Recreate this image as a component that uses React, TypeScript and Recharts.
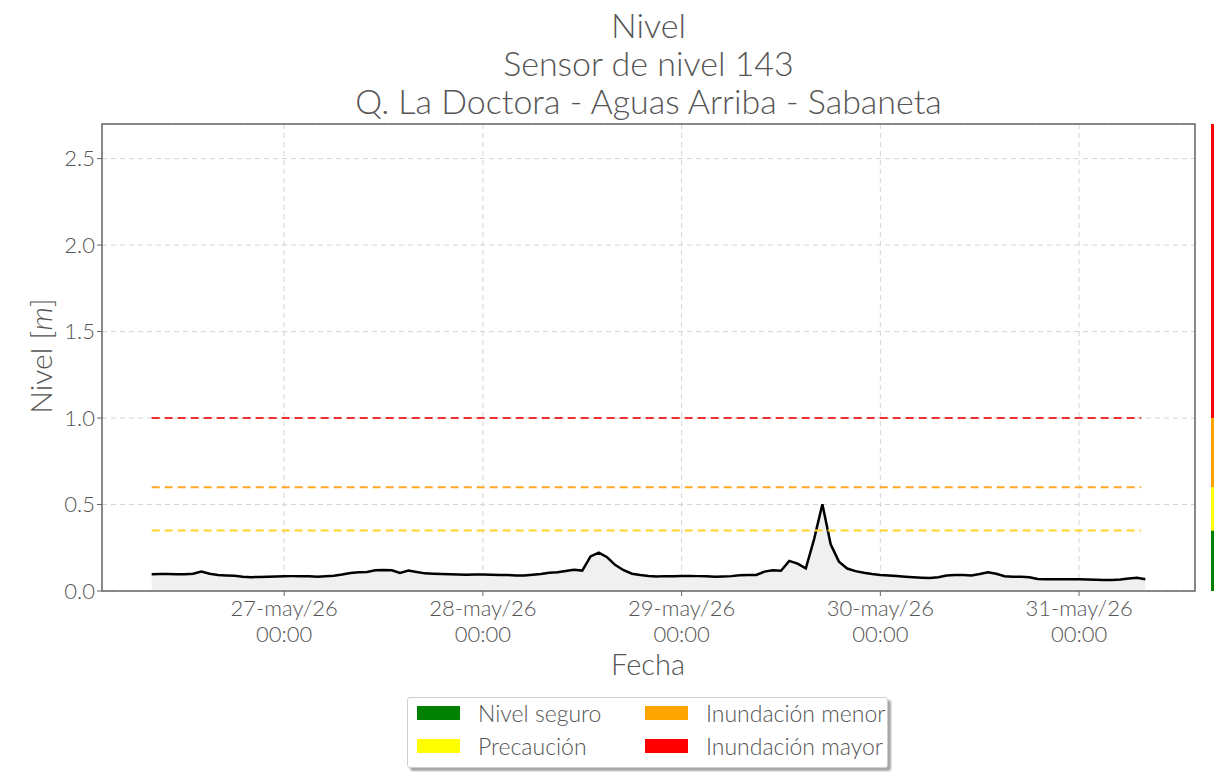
import React from 'react';
import {
  ComposedChart, Area, XAxis, YAxis, CartesianGrid, ReferenceLine, ReferenceArea,
  BarChart, Bar,
} from 'recharts';

// hours since 27-may/26 00:00
const hours: number[] = [
  -16, -15, -14, -13, -12, -11, -10, -9, -8, -7, -6, -5, -4, -3, -2, -1,
  0, 1, 2, 3, 4, 5, 6, 7, 8, 9, 10, 11, 12, 13, 14, 15, 16, 17, 18, 19, 20, 21, 22, 23,
  24, 25, 26, 27, 28, 29, 30, 31, 32, 33, 34, 35, 36, 37, 38, 39, 40, 41, 42, 43, 44, 45, 46, 47,
  48, 49, 50, 51, 52, 53, 54, 55, 56, 57, 58, 59, 60, 61, 62, 63, 64, 65, 66, 67, 68, 69, 70, 71,
  72, 73, 74, 75, 76, 77, 78, 79, 80, 81, 82, 83, 84, 85, 86, 87, 88, 89, 90, 91, 92, 93, 94, 95,
  96, 97, 98, 99, 100, 101, 102, 103, 104,
];

const nivel: number[] = [
  0.097, 0.098, 0.098, 0.097, 0.097, 0.100, 0.112, 0.100, 0.092, 0.090, 0.088, 0.082, 0.080, 0.081, 0.082, 0.084,
  0.085, 0.086, 0.086, 0.085, 0.083, 0.085, 0.088, 0.095, 0.104, 0.108, 0.110, 0.120, 0.122, 0.120, 0.105, 0.118,
  0.110, 0.102, 0.100, 0.098, 0.097, 0.095, 0.094, 0.095,
  0.096, 0.094, 0.093, 0.092, 0.089, 0.090, 0.094, 0.098, 0.105, 0.108, 0.115, 0.123, 0.118, 0.200, 0.222, 0.195,
  0.150, 0.120, 0.100, 0.092, 0.087, 0.084, 0.086, 0.086,
  0.087, 0.087, 0.086, 0.085, 0.083, 0.084, 0.086, 0.091, 0.092, 0.093, 0.112, 0.120, 0.117, 0.174, 0.158, 0.131,
  0.300, 0.502, 0.270, 0.170, 0.130, 0.115, 0.105, 0.098,
  0.093, 0.090, 0.087, 0.083, 0.080, 0.077, 0.075, 0.080, 0.090, 0.092, 0.092, 0.090, 0.098, 0.108, 0.100, 0.085,
  0.083, 0.082, 0.080, 0.070, 0.068, 0.068, 0.068, 0.068,
  0.068, 0.066, 0.065, 0.064, 0.064, 0.066, 0.072, 0.077, 0.068,
];

const xTicks: number[] = [0, 24, 48, 72, 96];
const xTickDates: string[] = ['27-may/26', '28-may/26', '29-may/26', '30-may/26', '31-may/26'];
const xTickTimes: string[] = ['00:00', '00:00', '00:00', '00:00', '00:00'];
const yTicks: number[] = [0, 0.5, 1.0, 1.5, 2.0, 2.5];

const thresholdNames: string[] = ['Precaución', 'Inundación menor', 'Inundación mayor'];
const thresholdValues: number[] = [0.35, 0.6, 1.0];
const thresholdColors: string[] = ['#ffd426', '#ffa726', '#f03030'];

const bandNames: string[] = ['Nivel seguro', 'Precaución', 'Inundación menor', 'Inundación mayor'];
const bandSizes: number[] = [0.35, 0.25, 0.4, 1.7];
const bandColors: string[] = ['#008000', '#ffff00', '#ffa500', '#ff0000'];

const titleLines: string[] = ['Nivel', 'Sensor de nivel 143', 'Q. La Doctora - Aguas Arriba - Sabaneta'];

const data = hours.map((h, i) => ({ h, v: nivel[i] }));
const bandRow: Record<string, number | string> = { name: 'b' };
bandSizes.forEach((s, i) => { bandRow['b' + i] = s; });
const bandData = [bandRow];

const FONT = 'Lato, "Open Sans", sans-serif';
const TXT = '#555555';

const XTick = (props: any) => {
  const { x, y, payload } = props;
  const idx = xTicks.indexOf(payload.value);
  return (
    <g>
      <text x={x} y={y + 18} textAnchor="middle" fill={TXT} fontSize={22} fontFamily={FONT} fontWeight={300}>
        {xTickDates[idx]}
      </text>
      <text x={x} y={y + 44} textAnchor="middle" fill={TXT} fontSize={22} fontFamily={FONT} fontWeight={300}>
        {xTickTimes[idx]}
      </text>
    </g>
  );
};

const YLabel = () => (
  <text x={0} y={0} transform="translate(52,356) rotate(-90)" textAnchor="middle" fill={TXT}
    fontSize={30} fontFamily={FONT} fontWeight={300}>
    Nivel [<tspan fontStyle="italic">m</tspan>]
  </text>
);

const XLabel = () => (
  <text x={648} y={675} textAnchor="middle" fill={TXT} fontSize={29} fontFamily={FONT} fontWeight={300}>
    Fecha
  </text>
);

export default function App() {
  return (
    <div style={{ position: 'absolute', left: 0, top: 0, width: 1214, height: 772, background: '#fff', fontFamily: FONT }}>
      {titleLines.map((t, i) => (
        <div key={i} style={{
          position: 'absolute', left: 0, width: 1297, top: 5 + i * 38, textAlign: 'center',
          fontSize: 34, lineHeight: '40px', color: TXT, fontWeight: 300,
        }}>{t}</div>
      ))}
      <div style={{ position: 'absolute', left: 0, top: 0 }}>
        <ComposedChart width={1214} height={772} data={data} margin={{ top: 124, right: 19, bottom: 0, left: 0 }}>
          <CartesianGrid stroke="#d4d4d4" strokeDasharray="5 4" strokeWidth={1} />
          <XAxis dataKey="h" type="number" domain={[-22, 110]} ticks={xTicks} height={181}
            axisLine={false} tickSize={5} tickLine={{ stroke: '#666' }} tick={<XTick />} label={<XLabel />}
            allowDataOverflow />
          <YAxis type="number" domain={[0, 2.7]} ticks={yTicks} width={102} axisLine={false}
            tickSize={5} tickLine={{ stroke: '#666' }} tickFormatter={(v: number) => v.toFixed(1)}
            tick={{ fill: TXT, fontSize: 22, fontFamily: FONT, fontWeight: 300 }} label={<YLabel />}
            allowDataOverflow />
          <Area type="linear" dataKey="v" stroke="#000" strokeWidth={2.5} fill="#f0f0f0" fillOpacity={1}
            isAnimationActive={false} dot={false} activeDot={false} />
          {thresholdValues.map((tv, i) => (
            <ReferenceLine key={thresholdNames[i]} segment={[{ x: hours[0], y: tv }, { x: 103.5, y: tv }]}
              stroke={thresholdColors[i]} strokeWidth={2} strokeDasharray="8 5" />
          ))}
          <ReferenceArea x1={-22} x2={110} y1={0} y2={2.7} fill="none" stroke="#666" strokeWidth={1.5}
            ifOverflow="visible" />
        </ComposedChart>
      </div>
      <div style={{ position: 'absolute', left: 1211, top: 0 }}>
        <BarChart width={3} height={772} data={bandData} margin={{ top: 124, right: 0, bottom: 181, left: 0 }}
          barCategoryGap={0}>
          <XAxis dataKey="name" hide />
          <YAxis type="number" domain={[0, 2.7]} hide />
          {bandSizes.map((_, i) => (
            <Bar key={i} dataKey={'b' + i} stackId="s" fill={bandColors[i]} isAnimationActive={false} />
          ))}
        </BarChart>
      </div>
      <div style={{
        position: 'absolute', left: 407, top: 697, width: 481, height: 71, boxSizing: 'border-box',
        border: '1px solid #cfcfcf', borderRadius: 3, background: '#fff',
        boxShadow: '3px 3px 2px rgba(0,0,0,0.35)',
      }}>
        {bandNames.map((n, i) => {
          const col = i === 0 || i === 1 ? 0 : 1;
          const row = i === 0 || i === 2 ? 0 : 1;
          return (
            <div key={n} style={{ position: 'absolute', left: 9 + col * 228, top: 6 + row * 33, height: 18, display: 'flex', alignItems: 'center' }}>
              <div style={{ width: 43, height: 14, background: bandColors[i] }} />
              <span style={{ marginLeft: 18, fontSize: 23, color: TXT, fontWeight: 300, whiteSpace: 'nowrap' }}>{n}</span>
            </div>
          );
        })}
      </div>
    </div>
  );
}
